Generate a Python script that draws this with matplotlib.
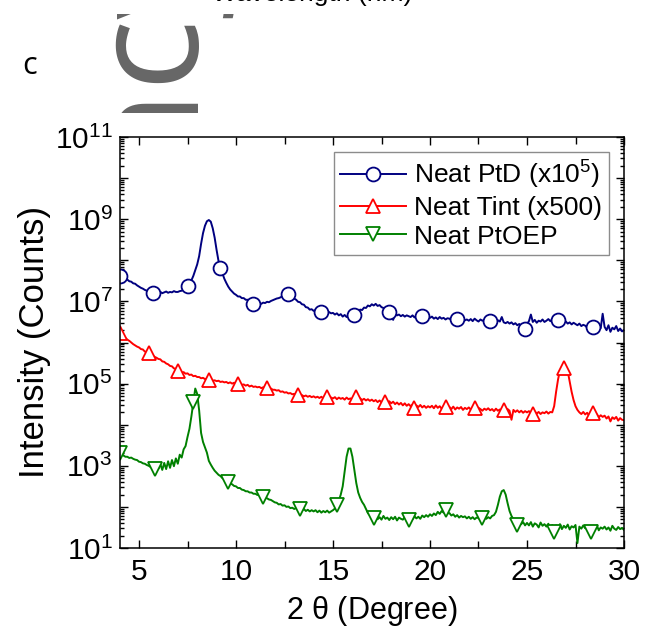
import numpy as np
import matplotlib
matplotlib.use("Agg")
import matplotlib.pyplot as plt
from matplotlib.ticker import FixedLocator, LogLocator, MultipleLocator, FuncFormatter, NullFormatter
from matplotlib.textpath import TextPath
from matplotlib.font_manager import FontProperties
from matplotlib.transforms import IdentityTransform

plt.rcParams["font.family"] = ["Liberation Sans", "DejaVu Sans"]
plt.rcParams["mathtext.fontset"] = "custom"
plt.rcParams["mathtext.rm"] = "Liberation Sans"
plt.rcParams["mathtext.it"] = "Liberation Sans:italic"
plt.rcParams["mathtext.default"] = "regular"

# 2-theta scan, 0.1 degree step from 4 to 30 degrees
two_theta = np.linspace(4.0, 30.0, 261)

# log10 of intensity (counts); PtD scaled x1e5, Tint scaled x500
ptd_log = [
    7.62, 7.59, 7.58, 7.54, 7.53, 7.49, 7.48, 7.44, 7.43, 7.39,
    7.36, 7.33, 7.31, 7.28, 7.26, 7.24, 7.22, 7.20, 7.21, 7.19,
    7.21, 7.23, 7.20, 7.22, 7.24, 7.21, 7.23, 7.22, 7.25, 7.23,
    7.23, 7.25, 7.26, 7.29, 7.33, 7.37, 7.43, 7.51, 7.62, 7.76,
    7.90, 8.10, 8.40, 8.66, 8.84, 8.95, 8.98, 8.94, 8.78, 8.55,
    8.25, 7.98, 7.82, 7.68, 7.55, 7.45, 7.36, 7.29, 7.24, 7.19,
    7.16, 7.12, 7.12, 7.08, 7.08, 7.04, 7.04, 7.01, 6.99, 6.94,
    6.95, 6.93, 6.96, 6.94, 6.97, 6.96, 6.99, 6.98, 7.01, 7.03,
    7.05, 7.07, 7.08, 7.10, 7.13, 7.15, 7.17, 7.17, 7.14, 7.10,
    7.07, 7.04, 6.99, 6.98, 6.93, 6.92, 6.86, 6.85, 6.80, 6.81,
    6.77, 6.79, 6.74, 6.76, 6.73, 6.71, 6.75, 6.70, 6.74, 6.71,
    6.72, 6.68, 6.71, 6.66, 6.69, 6.63, 6.67, 6.62, 6.66, 6.64,
    6.65, 6.67, 6.72, 6.75, 6.80, 6.79, 6.85, 6.84, 6.90, 6.88,
    6.93, 6.90, 6.94, 6.89, 6.91, 6.86, 6.84, 6.80, 6.79, 6.75,
    6.73, 6.55, 6.70, 6.66, 6.68, 6.64, 6.67, 6.63, 6.66, 6.64,
    6.62, 6.66, 6.61, 6.65, 6.63, 6.60, 6.64, 6.63, 6.61, 6.64,
    6.60, 6.63, 6.58, 6.61, 6.57, 6.62, 6.58, 6.60, 6.56, 6.59,
    6.58, 6.55, 6.59, 6.54, 6.57, 6.56, 6.53, 6.57, 6.54, 6.56,
    6.53, 6.57, 6.52, 6.58, 6.54, 6.51, 6.56, 6.53, 6.55, 6.52,
    6.55, 6.53, 6.50, 6.56, 6.48, 6.54, 6.51, 6.62, 6.49, 6.47,
    6.50, 6.46, 6.49, 6.44, 6.47, 6.42, 6.45, 6.40, 6.38, 6.32,
    6.45, 6.52, 6.68, 6.50, 6.55, 6.48, 6.53, 6.51, 6.56, 6.50,
    6.53, 6.57, 6.52, 6.56, 6.54, 6.58, 6.55, 6.53, 6.50, 6.54,
    6.51, 6.46, 6.49, 6.44, 6.48, 6.45, 6.42, 6.46, 6.40, 6.43,
    6.41, 6.36, 6.39, 6.33, 6.38, 6.37, 6.30, 6.42, 6.35, 6.70,
    6.38, 6.30, 6.42, 6.26, 6.36, 6.32, 6.40, 6.28, 6.34, 6.27,
    6.30,
]

tint_log = [
    6.22, 6.18, 6.15, 6.11, 6.07, 6.04, 6.00, 5.96, 5.93, 5.90,
    5.88, 5.84, 5.83, 5.78, 5.77, 5.74, 5.70, 5.69, 5.65, 5.63,
    5.60, 5.59, 5.54, 5.53, 5.49, 5.47, 5.43, 5.42, 5.37, 5.36,
    5.31, 5.31, 5.27, 5.28, 5.24, 5.25, 5.21, 5.22, 5.18, 5.19,
    5.16, 5.16, 5.13, 5.14, 5.11, 5.12, 5.09, 5.10, 5.07, 5.08,
    5.06, 5.07, 5.04, 5.05, 5.03, 5.04, 5.01, 5.03, 5.00, 5.02,
    5.01, 4.99, 5.00, 4.97, 4.98, 4.95, 4.97, 4.93, 4.95, 4.92,
    4.93, 4.91, 4.92, 4.89, 4.91, 4.88, 4.89, 4.87, 4.88, 4.85,
    4.85, 4.83, 4.84, 4.80, 4.81, 4.78, 4.79, 4.76, 4.77, 4.74,
    4.75, 4.72, 4.73, 4.71, 4.72, 4.69, 4.71, 4.68, 4.70, 4.67,
    4.69, 4.66, 4.68, 4.65, 4.68, 4.64, 4.67, 4.67, 4.63, 4.66,
    4.64, 4.67, 4.62, 4.66, 4.63, 4.65, 4.61, 4.66, 4.62, 4.64,
    4.61, 4.65, 4.68, 4.62, 4.64, 4.60, 4.63, 4.59, 4.62, 4.58,
    4.61, 4.57, 4.60, 4.55, 4.59, 4.54, 4.58, 4.56, 4.53, 4.57,
    4.52, 4.56, 4.50, 4.54, 4.49, 4.53, 4.47, 4.52, 4.46, 4.50,
    4.45, 4.49, 4.40, 4.47, 4.43, 4.48, 4.42, 4.46, 4.41, 4.45,
    4.42, 4.46, 4.40, 4.47, 4.41, 4.45, 4.39, 4.44, 4.44, 4.40,
    4.43, 4.38, 4.44, 4.37, 4.42, 4.39, 4.43, 4.36, 4.41, 4.38,
    4.42, 4.37, 4.36, 4.40, 4.35, 4.41, 4.38, 4.34, 4.39, 4.36,
    4.40, 4.35, 4.38, 4.33, 4.39, 4.34, 4.37, 4.32, 4.36, 4.33,
    4.38, 4.34, 4.12, 4.36, 4.31, 4.35, 4.30, 4.34, 4.29, 4.33,
    4.30, 4.33, 4.28, 4.26, 4.32, 4.27, 4.31, 4.26, 4.30, 4.28,
    4.32, 4.27, 4.31, 4.30, 4.45, 4.80, 5.10, 5.32, 5.38, 5.39,
    5.37, 5.30, 5.05, 4.80, 4.60, 4.45, 4.36, 4.30, 4.26, 4.31,
    4.25, 4.29, 4.22, 4.27, 4.29, 4.20, 4.25, 4.18, 4.23, 4.19,
    4.22, 4.15, 4.20, 4.08, 4.18, 4.14, 4.19, 4.10, 4.16, 4.12,
    4.11,
]

ptoep_log = [
    3.30, 3.27, 3.25, 3.22, 3.22, 3.19, 3.20, 3.17, 3.15, 3.14,
    3.10, 3.09, 3.06, 3.05, 3.02, 3.00, 2.97, 2.95, 2.92, 2.96,
    2.93, 3.04, 2.90, 3.07, 2.92, 3.11, 2.95, 3.14, 2.99, 3.18,
    3.05, 3.27, 3.20, 3.40, 3.48, 3.70, 3.90, 4.20, 4.55, 4.88,
    4.75, 4.35, 3.80, 3.58, 3.45, 3.32, 3.12, 3.03, 2.95, 2.88,
    2.83, 2.78, 2.75, 2.70, 2.67, 2.63, 2.61, 2.57, 2.55, 2.51,
    2.50, 2.46, 2.46, 2.42, 2.41, 2.38, 2.38, 2.35, 2.35, 2.32,
    2.32, 2.29, 2.30, 2.26, 2.25, 2.22, 2.21, 2.18, 2.17, 2.14,
    2.11, 2.10, 2.06, 2.07, 2.03, 2.04, 2.00, 2.01, 1.97, 1.98,
    1.95, 1.97, 1.93, 1.94, 1.91, 1.95, 1.90, 1.93, 1.89, 1.92,
    1.89, 1.92, 1.87, 1.91, 1.86, 1.90, 1.87, 1.91, 1.86, 1.89,
    1.92, 1.96, 2.05, 2.15, 2.30, 2.50, 2.85, 3.22, 3.42, 3.42,
    3.22, 2.90, 2.58, 2.35, 2.22, 2.12, 2.05, 1.95, 1.85, 1.80,
    1.76, 1.72, 1.77, 1.70, 1.75, 1.69, 1.78, 1.71, 1.74, 1.68,
    1.75, 1.70, 1.76, 1.67, 1.74, 1.71, 1.69, 1.75, 1.70, 1.68,
    1.74, 1.70, 1.77, 1.72, 1.76, 1.71, 1.79, 1.75, 1.80, 1.76,
    1.82, 1.78, 1.84, 1.80, 1.88, 1.83, 1.90, 1.86, 1.92, 1.84,
    1.85, 1.79, 1.82, 1.76, 1.80, 1.74, 1.78, 1.75, 1.77, 1.72,
    1.76, 1.71, 1.75, 1.70, 1.74, 1.73, 1.69, 1.72, 1.76, 1.71,
    1.75, 1.72, 1.78, 1.80, 1.88, 2.05, 2.25, 2.38, 2.41, 2.30,
    2.09, 1.90, 1.78, 1.70, 1.62, 1.56, 1.64, 1.58, 1.63, 1.55,
    1.61, 1.55, 1.63, 1.52, 1.60, 1.57, 1.50, 1.62, 1.54, 1.58,
    1.52, 1.59, 1.48, 1.56, 1.40, 1.55, 1.50, 1.58, 1.46, 1.54,
    1.49, 1.57, 1.45, 1.53, 1.50, 1.56, 1.12, 1.52, 1.47, 1.55,
    1.48, 1.53, 1.44, 1.40, 1.51, 1.46, 1.55, 1.43, 1.50, 1.47,
    1.52, 1.45, 1.50, 1.42, 1.54, 1.47, 1.44, 1.51, 1.46, 1.49,
    1.44,
]

# 2-theta positions carrying a symbol on each trace
ptd_marker_theta = [4.0, 5.7, 7.5, 9.2, 10.9, 12.7, 14.4, 16.1, 17.9, 19.6,
                    21.4, 23.1, 24.9, 26.6, 28.4]
tint_marker_theta = [4.0, 5.5, 7.0, 8.6, 10.1, 11.6, 13.2, 14.7, 16.2, 17.7,
                     19.2, 20.8, 22.3, 23.8, 25.3, 26.9, 28.4]
ptoep_marker_theta = [4.0, 5.8, 7.8, 9.6, 11.4, 13.3, 15.2, 17.1, 18.9, 20.8,
                      22.7, 24.5, 26.4, 28.3]

labels = ["Neat PtD (x$10^5$)", "Neat Tint (x500)", "Neat PtOEP"]
colors = ["#000080", "#ff0000", "#008000"]
markers = ["o", "^", "v"]

W, H = 645, 632
fig = plt.figure(figsize=(W / 100, H / 100), dpi=100)

# main axes
ax_l, ax_r, ax_t, ax_b = 119.6, 624.0, 137.0, 548.0
ax = fig.add_axes([ax_l / W, 1 - ax_b / H, (ax_r - ax_l) / W, (ax_b - ax_t) / H])

for vals, marks, col, mk, lab in zip(
        [ptd_log, tint_log, ptoep_log],
        [ptd_marker_theta, tint_marker_theta, ptoep_marker_theta],
        colors, markers, labels):
    counts = 10.0 ** np.asarray(vals)
    idx = [int(np.argmin(np.abs(two_theta - m))) for m in marks]
    ax.plot(two_theta, counts, color=col, lw=1.4, marker=mk, markevery=idx,
            ms=10, mfc="white", mec=col, mew=1.3, label=lab)

ax.set_yscale("log")
ax.set_xlim(4, 30)
ax.set_ylim(10, 1e11)

ax.xaxis.set_major_locator(MultipleLocator(5))
ax.xaxis.set_minor_locator(MultipleLocator(2.5))
ax.yaxis.set_major_locator(FixedLocator(10.0 ** np.arange(1, 12)))
ax.yaxis.set_minor_locator(LogLocator(base=10, subs=np.arange(2, 10), numticks=40))
ax.yaxis.set_minor_formatter(NullFormatter())


def decade_label(v, pos):
    e = int(round(np.log10(v)))
    return r"$10^{%d}$" % e if e % 2 == 1 else ""


ax.yaxis.set_major_formatter(FuncFormatter(decade_label))

ax.tick_params(which="both", direction="in", top=True, right=True,
               width=1.0, labelsize=21.5)
ax.tick_params(axis="x", which="major", length=6, pad=7)
ax.tick_params(axis="x", which="minor", length=5)
ax.tick_params(axis="y", which="major", length=6, pad=5)
ax.tick_params(axis="y", which="minor", length=3)
for sp in ax.spines.values():
    sp.set_linewidth(1.1)

ax.set_xlabel(r"2 $\theta$ (Degree)", fontsize=22)
ax.set_ylabel("Intensity (Counts)", fontsize=25)
ax.yaxis.set_label_coords(-0.136, 0.5)
ax.xaxis.set_label_coords(0.5, -0.112)

leg = ax.legend(loc="upper right", bbox_to_anchor=(0.970, 0.963),
                borderaxespad=0, fontsize=19, frameon=True, fancybox=False,
                framealpha=1, edgecolor="#8c8c8c", handlelength=2.5,
                handletextpad=0.3, labelspacing=0.18, borderpad=0.25)
leg.get_frame().set_linewidth(1.0)

# panel letter
fig.text(30 / W, 1 - 66 / H, "c", fontsize=22, family=["Open Sans", "DejaVu Sans"],
         ha="center", va="center")

# lower edge of the neighbouring panel: its axis title and a large grey caption
fig.text(312 / W, 1 - 1 / H, "Wavelength (nm)", fontsize=19,
         ha="center", va="baseline")

strip = fig.add_axes([0, 1 - 113 / H, 1, 99 / H])
strip.axis("off")
cap_pt = 108
cap_px = cap_pt * 100 / 72
cap_font = FontProperties(family="Open Sans")
lead = TextPath((0, 0), "Efficien", size=cap_px, prop=cap_font).get_extents()
anchor_y = (H - 105) - lead.x1 + 17
strip.text(184, anchor_y, "Efficiency", transform=IdentityTransform(),
           rotation=90, rotation_mode="anchor", ha="left", va="baseline",
           fontsize=cap_pt, family="Open Sans", color="#666666", clip_on=True)

fig.savefig("out.png", dpi=100)
